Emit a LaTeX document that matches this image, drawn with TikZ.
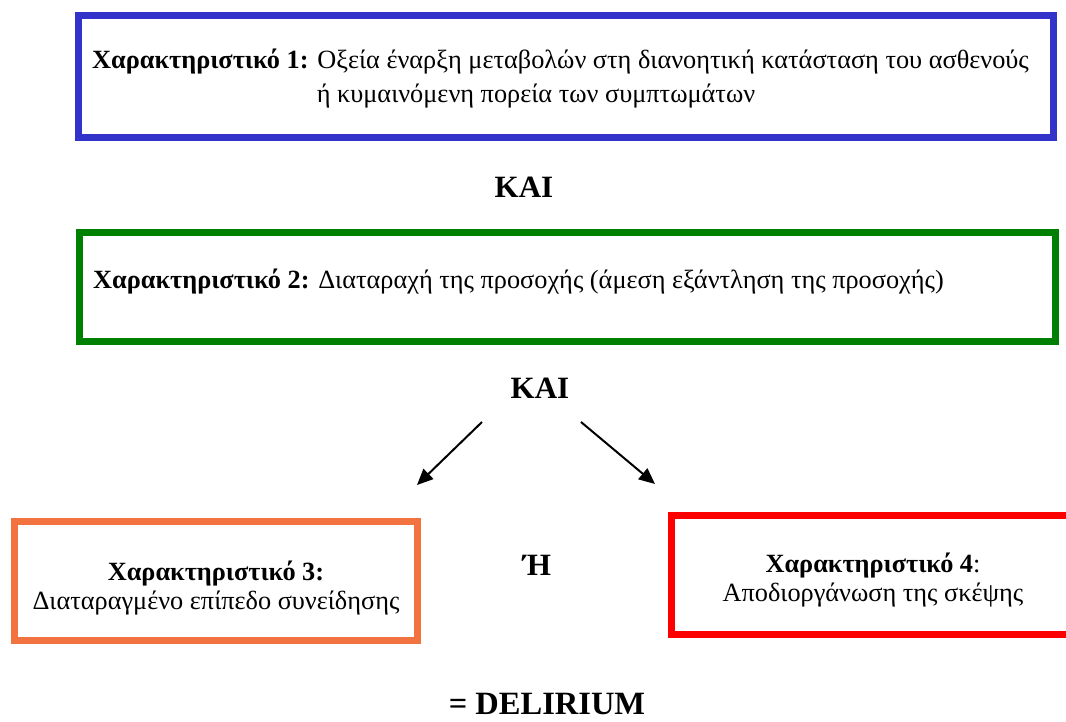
\documentclass[tikz,border=0pt]{standalone}
\usepackage{fontspec}
\setmainfont{Liberation Serif}
\usetikzlibrary{positioning,arrows.meta}
\definecolor{boxblue}{RGB}{51,51,204}
\definecolor{boxgreen}{RGB}{0,128,0}
\definecolor{boxorange}{RGB}{242,115,64}
\definecolor{boxred}{RGB}{255,0,0}
\tikzstyle{frame} = [draw, rectangle, line width=7pt]
\tikzstyle{txt} = [inner sep=0pt, align=center, font=\fontsize{26.3}{29}\selectfont]
\tikzstyle{head} = [inner sep=0pt, font=\fontsize{31}{34}\selectfont\bfseries]
\tikzstyle{pointer} = [-{Triangle[length=16pt,width=14pt]}, line width=2pt]

\begin{document}
\begin{tikzpicture}[x=1pt, y=-1pt]
	\useasboundingbox (0,0) rectangle (1066,722);
	\clip (0,0) rectangle (1066,722);
	%
	\node (c1) [frame,draw=boxblue,minimum width=975pt,minimum height=122pt] at (566,76.5) {};
	\node (t1a) [txt,anchor=west] at (92,62) {\textbf{Χαρακτηριστικό 1:} Οξεία έναρξη μεταβολών στη διανοητική κατάσταση του ασθενούς};
	\node (t1b) [txt] at (536,96) {ή κυμαινόμενη πορεία των συμπτωμάτων};
	%
	\node (kai1) [head] at (524,187) {ΚΑΙ};
	%
	\node (c2) [frame,draw=boxgreen,minimum width=976pt,minimum height=109pt] at (567.5,287) {};
	\node (t2) [txt,anchor=west] at (93,282) {\textbf{Χαρακτηριστικό 2:} Διαταραχή της προσοχής (άμεση εξάντληση της προσοχής)};
	%
	\node (kai2) [head] at (540,388) {ΚΑΙ};
	%
	\node (c3) [frame,draw=boxorange,minimum width=403pt,minimum height=119pt] at (216,581) {};
	\node (t3) [txt] at (216,588) {\textbf{Χαρακτηριστικό 3:}\\Διαταραγμένο επίπεδο συνείδησης};
	\node (or) [head] at (537,565) {Ή};
	\node (c4) [frame,draw=boxred,minimum width=403pt,minimum height=119.5pt] at (873,575) {};
	\node (t4) [txt] at (873,580) {\textbf{Χαρακτηριστικό 4}:\\Αποδιοργάνωση της σκέψης};
	%
	\coordinate (l0) at (482,422);
	\coordinate (l1) at (417,485);
	\coordinate (r0) at (581,422);
	\coordinate (r1) at (655,484);
	\draw [pointer] (l0) -- (l1);
	\draw [pointer] (r0) -- (r1);
	%
	\node (res) [head,anchor=base,font=\fontsize{32.5}{35}\selectfont\bfseries] at (547,714) {= DELIRIUM};
\end{tikzpicture}
\end{document}
